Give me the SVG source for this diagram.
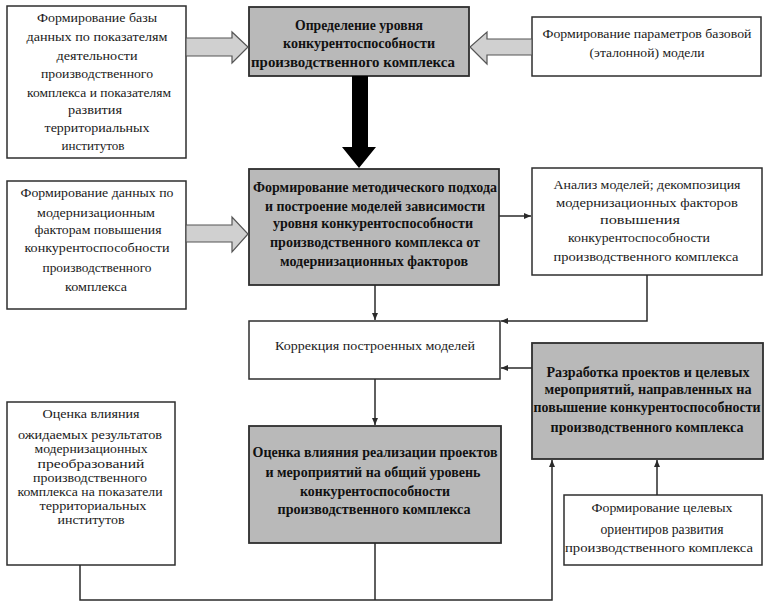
<svg xmlns="http://www.w3.org/2000/svg" width="766" height="610" viewBox="0 0 766 610">
<style>
.box{fill:#ffffff;stroke:#2e2e2e;stroke-width:1.5}
.gbox{fill:#b9b9b9;stroke:#2e2e2e;stroke-width:1.8}
text{font-family:"Liberation Serif","Times New Roman",serif;text-anchor:middle}
.t{font-size:13.5px;fill:#1a1a1a}
.s{font-size:12px;fill:#1a1a1a}
.b{font-size:14px;font-weight:bold;fill:#111}
.ln{fill:none;stroke:#2a2a2a;stroke-width:1.5}
.blk{fill:#d0d0d0;stroke:#555;stroke-width:1.2}
</style>
<defs>
<marker id="ah" markerWidth="8" markerHeight="8" refX="7" refY="4" orient="auto" markerUnits="userSpaceOnUse">
<path d="M0,1 L7,4 L0,7 Z" fill="#2a2a2a"/>
</marker>
</defs>
<rect x="0" y="0" width="766" height="610" fill="#ffffff"/>

<g id="n1">
<rect class="box" x="7" y="6" width="179" height="152"/>
<text class="t" x="97" y="22" textLength="120" lengthAdjust="spacingAndGlyphs">Формирование базы</text>
<text class="t" x="97" y="41" textLength="141" lengthAdjust="spacingAndGlyphs">данных по показателям</text>
<text class="t" x="97" y="60" textLength="81" lengthAdjust="spacingAndGlyphs">деятельности</text>
<text class="t" x="97" y="78" textLength="112" lengthAdjust="spacingAndGlyphs">производственного</text>
<text class="t" x="99" y="97" textLength="144" lengthAdjust="spacingAndGlyphs">комплекса и показателям</text>
<text class="t" x="95" y="114" textLength="54" lengthAdjust="spacingAndGlyphs">развития</text>
<text class="t" x="97" y="132" textLength="105" lengthAdjust="spacingAndGlyphs">территориальных</text>
<text class="t" x="93" y="150" textLength="63" lengthAdjust="spacingAndGlyphs">институтов</text>
</g>

<g id="n2">
<rect class="gbox" x="249" y="7" width="220" height="69"/>
<text class="b" x="359" y="30" textLength="128" lengthAdjust="spacingAndGlyphs">Определение уровня</text>
<text class="b" x="359" y="48" textLength="152" lengthAdjust="spacingAndGlyphs">конкурентоспособности</text>
<text class="b" x="353" y="67" textLength="204" lengthAdjust="spacingAndGlyphs">производственного комплекса</text>
</g>

<g id="n3">
<rect class="box" x="532" y="17" width="229" height="59"/>
<text class="t" x="647" y="38" textLength="209" lengthAdjust="spacingAndGlyphs">Формирование параметров базовой</text>
<text class="t" x="647" y="57" textLength="115" lengthAdjust="spacingAndGlyphs">(эталонной) модели</text>
</g>

<g id="n4">
<rect class="box" x="7" y="181" width="179" height="128"/>
<text class="t" x="97" y="197" textLength="153" lengthAdjust="spacingAndGlyphs">Формирование данных по</text>
<text class="t" x="96" y="217" textLength="118" lengthAdjust="spacingAndGlyphs">модернизационным</text>
<text class="t" x="98" y="234" textLength="127" lengthAdjust="spacingAndGlyphs">факторам повышения</text>
<text class="t" x="97" y="252" textLength="145" lengthAdjust="spacingAndGlyphs">конкурентоспособности</text>
<text class="t" x="97" y="272" textLength="109" lengthAdjust="spacingAndGlyphs">производственного</text>
<text class="t" x="96" y="291" textLength="62" lengthAdjust="spacingAndGlyphs">комплекса</text>
</g>

<g id="n5">
<rect class="gbox" x="249" y="169" width="250" height="116"/>
<text class="b" x="375" y="192" textLength="244" lengthAdjust="spacingAndGlyphs">Формирование методического подхода</text>
<text class="b" x="375" y="211" textLength="220" lengthAdjust="spacingAndGlyphs">и построение моделей зависимости</text>
<text class="b" x="373" y="228" textLength="200" lengthAdjust="spacingAndGlyphs">уровня конкурентоспособности</text>
<text class="b" x="375" y="247" textLength="210" lengthAdjust="spacingAndGlyphs">производственного комплекса от</text>
<text class="b" x="374" y="266" textLength="188" lengthAdjust="spacingAndGlyphs">модернизационных факторов</text>
</g>

<g id="n6">
<rect class="box" x="532" y="168" width="230" height="107"/>
<text class="t" x="647" y="189" textLength="187" lengthAdjust="spacingAndGlyphs">Анализ моделей; декомпозиция</text>
<text class="t" x="647" y="207" textLength="182" lengthAdjust="spacingAndGlyphs">модернизационных факторов</text>
<text class="t" x="640" y="224" textLength="80" lengthAdjust="spacingAndGlyphs">повышения</text>
<text class="t" x="639" y="242" textLength="142" lengthAdjust="spacingAndGlyphs">конкурентоспособности</text>
<text class="t" x="646" y="261" textLength="185" lengthAdjust="spacingAndGlyphs">производственного комплекса</text>
</g>

<g id="n7">
<rect class="box" x="249" y="321" width="251" height="58"/>
<text class="t" x="375" y="350" textLength="200" lengthAdjust="spacingAndGlyphs">Коррекция построенных моделей</text>
</g>

<g id="n8">
<rect class="gbox" x="532" y="343" width="231" height="116"/>
<text class="b" x="648" y="377" textLength="203" lengthAdjust="spacingAndGlyphs">Разработка проектов и целевых</text>
<text class="b" x="648" y="394" textLength="207" lengthAdjust="spacingAndGlyphs">мероприятий, направленных на</text>
<text class="b" x="647" y="412" textLength="227" lengthAdjust="spacingAndGlyphs">повышение конкурентоспособности</text>
<text class="b" x="647" y="432" textLength="193" lengthAdjust="spacingAndGlyphs">производственного комплекса</text>
</g>

<g id="n9">
<rect class="gbox" x="249" y="426" width="252" height="117"/>
<text class="b" x="375" y="457" textLength="245" lengthAdjust="spacingAndGlyphs">Оценка влияния реализации проектов</text>
<text class="b" x="373" y="477" textLength="215" lengthAdjust="spacingAndGlyphs">и мероприятий на общий уровень</text>
<text class="b" x="375" y="496" textLength="150" lengthAdjust="spacingAndGlyphs">конкурентоспособности</text>
<text class="b" x="374" y="514" textLength="193" lengthAdjust="spacingAndGlyphs">производственного комплекса</text>
</g>

<g id="n10">
<rect class="box" x="7" y="402" width="168" height="163"/>
<text class="s" x="91" y="418" textLength="97" lengthAdjust="spacingAndGlyphs">Оценка влияния</text>
<text class="s" x="90" y="439" textLength="144" lengthAdjust="spacingAndGlyphs">ожидаемых результатов</text>
<text class="s" x="91" y="453" textLength="113" lengthAdjust="spacingAndGlyphs">модернизационных</text>
<text class="s" x="91" y="468" textLength="107" lengthAdjust="spacingAndGlyphs">преобразований</text>
<text class="s" x="90" y="482" textLength="114" lengthAdjust="spacingAndGlyphs">производственного</text>
<text class="s" x="90" y="496" textLength="145" lengthAdjust="spacingAndGlyphs">комплекса на показатели</text>
<text class="s" x="93" y="510" textLength="107" lengthAdjust="spacingAndGlyphs">территориальных</text>
<text class="s" x="91" y="524" textLength="67" lengthAdjust="spacingAndGlyphs">институтов</text>
</g>

<g id="n11">
<rect class="box" x="564" y="495" width="198" height="70"/>
<text class="t" x="662" y="512" textLength="141" lengthAdjust="spacingAndGlyphs">Формирование целевых</text>
<text class="t" x="662" y="534" textLength="123" lengthAdjust="spacingAndGlyphs" style="font-size:15px">ориентиров развития</text>
<text class="t" x="659" y="552" textLength="188" lengthAdjust="spacingAndGlyphs">производственного комплекса</text>
</g>

<g id="connectors">
<polygon class="blk" points="186,38 232,38 232,32 248,47 232,63 232,56 186,56"/>
<polygon class="blk" points="532,39 487,39 487,32 470,47 487,64 487,55 532,55"/>
<polygon class="blk" points="186,225 232,225 232,217 248,234 232,252 232,242 186,242"/>
<polygon fill="#000" points="352,76 368,76 368,147 376,147 359,168 342,147 352,147"/>
<line class="ln" x1="499" y1="216" x2="531" y2="216" marker-end="url(#ah)"/>
<line class="ln" x1="375" y1="285" x2="375" y2="320" marker-end="url(#ah)"/>
<polyline class="ln" points="647,275 647,321 501,321" marker-end="url(#ah)"/>
<line class="ln" x1="532" y1="368" x2="501" y2="368" marker-end="url(#ah)"/>
<line class="ln" x1="375" y1="379" x2="375" y2="425" marker-end="url(#ah)"/>
<line class="ln" x1="657" y1="495" x2="657" y2="460" marker-end="url(#ah)"/>
<line class="ln" x1="375" y1="543" x2="375" y2="600"/>
<polyline class="ln" points="80,565 80,600 552,600 552,460" marker-end="url(#ah)"/>
</g>
</svg>
